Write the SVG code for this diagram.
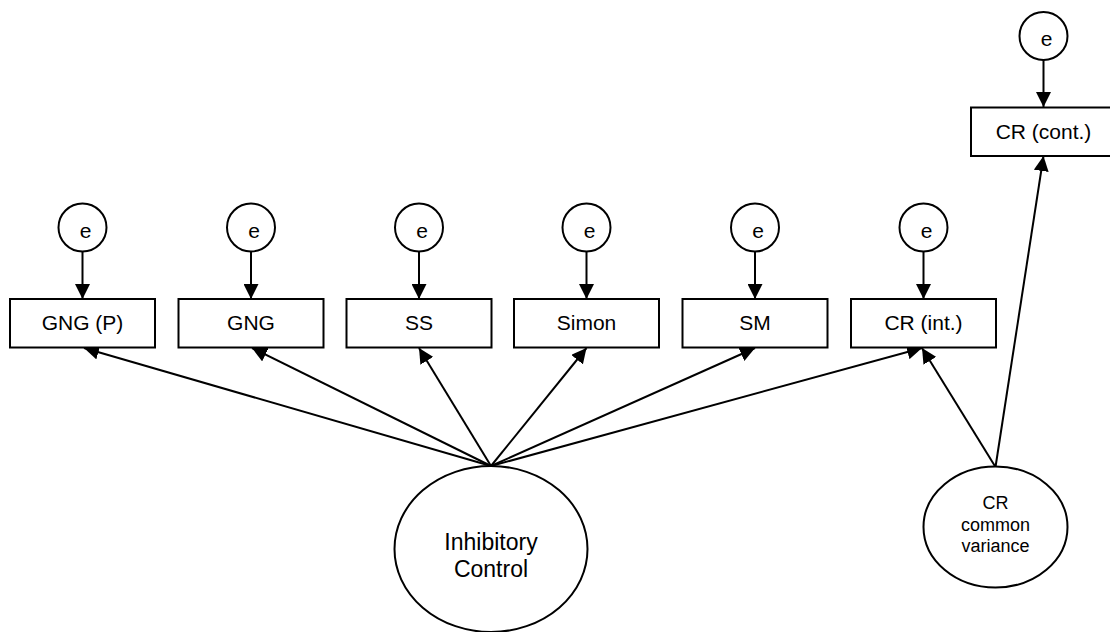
<svg xmlns="http://www.w3.org/2000/svg" width="1110" height="632" viewBox="0 0 1110 632">
  <style>
    .box { fill: #fff; stroke: #000; stroke-width: 2; }
    .err { fill: #fff; stroke: #000; stroke-width: 2; }
    .lat { fill: #fff; stroke: #000; stroke-width: 2; }
    .edge { fill: none; stroke: #000; stroke-width: 2; marker-end: url(#arrow); }
    text { font-family: "Liberation Sans", Arial, sans-serif; fill: #000; text-anchor: middle; }
    .lbl { font-size: 21px; }
    .big { font-size: 23px; }
    .small { font-size: 18px; }
  </style>
  <defs>
    <marker id="arrow" markerUnits="userSpaceOnUse" markerWidth="16" markerHeight="15" refX="15" refY="7.5" orient="auto">
      <path d="M0,0 L15,7.5 L0,15 Z" fill="#000"/>
    </marker>
  </defs>
  <rect width="1110" height="632" fill="#fff"/>

  <!-- connectors -->
  <g id="connectors">
    <!-- error terms to indicators -->
    <line class="edge" x1="82.5" y1="251.5" x2="82.5" y2="299"/>
    <line class="edge" x1="251" y1="251.5" x2="251" y2="299"/>
    <line class="edge" x1="419" y1="251.5" x2="419" y2="299"/>
    <line class="edge" x1="586.5" y1="251.5" x2="586.5" y2="299"/>
    <line class="edge" x1="755" y1="251.5" x2="755" y2="299"/>
    <line class="edge" x1="923.5" y1="251.5" x2="923.5" y2="299"/>
    <line class="edge" x1="1043.5" y1="60" x2="1043.5" y2="107"/>
    <!-- Inhibitory Control loadings -->
    <line class="edge" x1="491" y1="466" x2="84" y2="348"/>
    <line class="edge" x1="491" y1="466" x2="252" y2="348"/>
    <line class="edge" x1="491" y1="466" x2="419" y2="348"/>
    <line class="edge" x1="491" y1="466" x2="586.5" y2="348"/>
    <line class="edge" x1="491" y1="466" x2="755" y2="348"/>
    <line class="edge" x1="491" y1="466" x2="922" y2="348"/>
    <!-- CR common variance loadings -->
    <line class="edge" x1="995.5" y1="467" x2="922" y2="348"/>
    <line class="edge" x1="995.5" y1="467" x2="1043.5" y2="156"/>
  </g>

  <!-- error terms -->
  <g id="e1"><circle class="err" cx="82.5" cy="227.5" r="24"/><text class="lbl" x="85.5" y="237.5">e</text></g>
  <g id="e2"><circle class="err" cx="251" cy="227.5" r="24"/><text class="lbl" x="254" y="237.5">e</text></g>
  <g id="e3"><circle class="err" cx="419" cy="227.5" r="24"/><text class="lbl" x="422" y="237.5">e</text></g>
  <g id="e4"><circle class="err" cx="586.5" cy="227.5" r="24"/><text class="lbl" x="589.5" y="237.5">e</text></g>
  <g id="e5"><circle class="err" cx="755" cy="227.5" r="24"/><text class="lbl" x="758" y="237.5">e</text></g>
  <g id="e6"><circle class="err" cx="923.5" cy="227.5" r="24"/><text class="lbl" x="926.5" y="237.5">e</text></g>
  <g id="e7"><circle class="err" cx="1043.5" cy="36" r="24"/><text class="lbl" x="1046.5" y="46">e</text></g>

  <!-- indicators -->
  <g id="gngp"><rect class="box" x="10" y="299" width="145" height="48.5"/><text class="lbl" x="82.5" y="330">GNG (P)</text></g>
  <g id="gng"><rect class="box" x="178.5" y="299" width="145" height="48.5"/><text class="lbl" x="251" y="330">GNG</text></g>
  <g id="ss"><rect class="box" x="346.5" y="299" width="145" height="48.5"/><text class="lbl" x="419" y="330">SS</text></g>
  <g id="simon"><rect class="box" x="514" y="299" width="145" height="48.5"/><text class="lbl" x="586.5" y="330">Simon</text></g>
  <g id="sm"><rect class="box" x="682.5" y="299" width="145" height="48.5"/><text class="lbl" x="755" y="330">SM</text></g>
  <g id="crint"><rect class="box" x="851" y="299" width="145" height="48.5"/><text class="lbl" x="923.5" y="330">CR (int.)</text></g>
  <g id="crcont"><rect class="box" x="971" y="107.5" width="145" height="48.5"/><text class="lbl" x="1043.5" y="138.5">CR (cont.)</text></g>

  <!-- latent factors -->
  <g id="ic">
    <ellipse class="lat" cx="491" cy="549" rx="96.5" ry="83"/>
    <text class="big" x="491" y="550">Inhibitory</text>
    <text class="big" x="491" y="576.5">Control</text>
  </g>
  <g id="crvar">
    <ellipse class="lat" cx="995.5" cy="527" rx="72" ry="60.5"/>
    <text class="small" x="995.5" y="509">CR</text>
    <text class="small" x="995.5" y="531">common</text>
    <text class="small" x="995.5" y="551.5">variance</text>
  </g>
</svg>
